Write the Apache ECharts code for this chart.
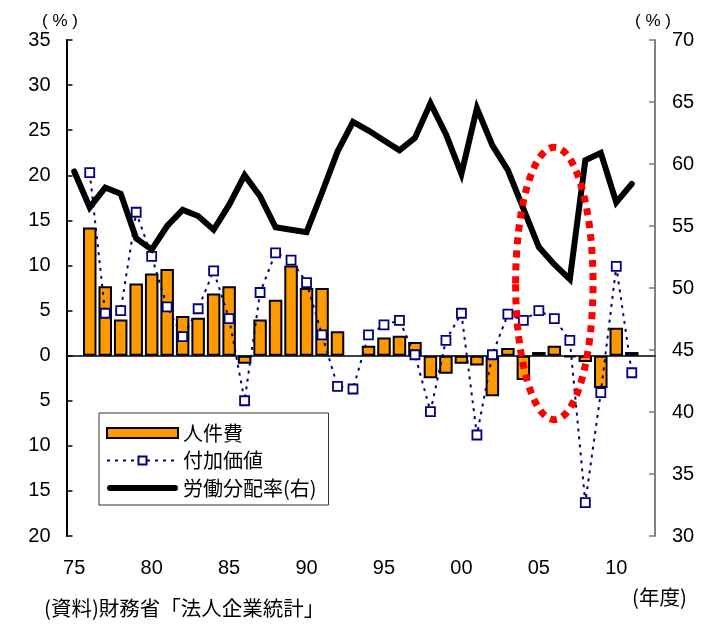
<!DOCTYPE html>
<html>
<head>
<meta charset="utf-8">
<script src="https://cdn.jsdelivr.net/npm/echarts@6/dist/echarts.min.js"></script>
<style>
  html, body { margin: 0; padding: 0; background: #fff; }
  #chart { width: 709px; height: 624px; }
</style>
</head>
<body>
<div id="chart"></div>
<script>
// Fiscal years 1975-2012 (two-digit labels)
const years = ['75','76','77','78','79','80','81','82','83','84',
               '85','86','87','88','89','90','91','92','93','94',
               '95','96','97','98','99','00','01','02','03','04',
               '05','06','07','08','09','10','11','12'];

// 人件費 (year-on-year %, left axis)
const labourCost = [null, 14.2, 7.7, 4.0, 8.0, 9.1, 9.6, 4.4, 4.2, 6.9,
                    7.7, -0.9, 4.0, 6.2, 10.0, 7.5, 7.5, 2.7, null, 1.1,
                    2.0, 2.2, 1.5, -2.5, -2.0, -0.9, -1.1, -4.5, 0.85, -2.7,
                    0.4, 1.1, -0.2, -0.7, -3.6, 3.1, 0.4, null];

// 付加価値 (year-on-year %, left axis)
const valueAdded = [null, 20.3, 4.7, 5.0, 15.9, 11.0, 5.4, 2.1, 5.2, 9.4,
                    4.1, -5.0, 7.0, 11.4, 10.6, 8.1, 2.3, -3.4, -3.7, 2.3,
                    3.4, 3.9, 0.1, -6.2, 1.7, 4.7, -8.8, 0.1, 4.6, 3.9,
                    5.0, 4.1, 1.7, -16.3, -4.1, 9.9, -1.9, null];

// 労働分配率 (%, right axis)
const labourShare = [59.4, 56.5, 58.1, 57.6, 54.0, 53.1, 55.0, 56.3, 55.8, 54.7,
                     56.7, 59.1, 57.4, 54.9, 54.7, 54.5, 57.7, 61.0, 63.4, 62.7,
                     61.9, 61.1, 62.1, 64.9, 62.4, 59.2, 64.5, 61.5, 59.5, 56.4,
                     53.3, 51.9, 50.7, 60.3, 60.9, 56.9, 58.4, null];

// Highlighted period (ellipse in data units: centre year/value, half-width in years, half-height in %)
const highlight = { year: '06', value: 8, halfYears: 2.5, halfValue: 15.1 };

const numFont = 'Liberation Sans, Arial, sans-serif';
const jpFont = 'Noto Sans CJK JP, sans-serif';

// Legend glyph for the thick share line: a 71x6 capsule
const capsuleIcon = 'path://M3,0 L68,0 A3,3 0 0 1 68,6 L3,6 A3,3 0 0 1 3,0 Z';

const chart = echarts.init(document.getElementById('chart'));

chart.setOption({
  animation: false,
  backgroundColor: '#fff',
  grid: { left: 66.5, right: 54, top: 40, bottom: 88, containLabel: false },
  legend: {
    orient: 'vertical',
    left: 99,
    top: 413,
    padding: [10, 12, 7, 7],
    itemGap: 7.5,
    itemWidth: 71,
    itemHeight: 10,
    backgroundColor: '#fff',
    borderColor: '#333',
    borderWidth: 1,
    textStyle: { fontFamily: jpFont, fontSize: 20, color: '#000', lineHeight: 20 },
    data: [
      { name: '人件費', icon: 'rect' },
      { name: '付加価値' },
      { name: '労働分配率(右)', icon: capsuleIcon }
    ]
  },
  xAxis: {
    type: 'category',
    data: years,
    boundaryGap: true,
    axisLine: { lineStyle: { color: '#404040', width: 2 } },
    axisTick: { inside: true, length: 7, interval: 4, lineStyle: { color: '#404040', width: 1.5 } },
    axisLabel: { interval: 4, color: '#000', fontFamily: numFont, fontSize: 20, margin: 22 },
    splitLine: { show: false }
  },
  yAxis: [
    {
      type: 'value',
      min: -20, max: 35, interval: 5,
      axisLine: { show: true, lineStyle: { color: '#000', width: 2 } },
      axisTick: { show: true, inside: true, length: 6, lineStyle: { color: '#000', width: 1.5 } },
      axisLabel: { color: '#000', fontFamily: numFont, fontSize: 20, margin: 16,
                   formatter: v => String(Math.abs(v)) },
      splitLine: { show: false }
    },
    {
      type: 'value',
      min: 30, max: 70, interval: 5,
      position: 'right',
      axisLine: { show: true, lineStyle: { color: '#808080', width: 2 } },
      axisTick: { show: true, inside: true, length: 6, lineStyle: { color: '#808080', width: 1.5 } },
      axisLabel: { color: '#000', fontFamily: numFont, fontSize: 20, margin: 17 },
      splitLine: { show: false }
    }
  ],
  series: [
    {
      name: '人件費',
      type: 'bar',
      yAxisIndex: 0,
      data: labourCost,
      barWidth: 13.5,
      itemStyle: { color: '#FF9900', borderColor: '#000', borderWidth: 2 },
      z: 2
    },
    {
      name: '付加価値',
      type: 'line',
      yAxisIndex: 0,
      data: valueAdded,
      symbol: 'rect',
      symbolSize: 9,
      showAllSymbol: true,
      lineStyle: { color: '#000080', width: 2, type: [3, 5] },
      itemStyle: { color: '#fff', borderColor: '#000080', borderWidth: 1.8 },
      z: 3
    },
    {
      name: '労働分配率(右)',
      type: 'line',
      yAxisIndex: 1,
      data: labourShare,
      symbol: 'none',
      lineStyle: { color: '#000', width: 6, cap: 'round', join: 'miter' },
      itemStyle: { color: '#000' },
      z: 4
    }
  ]
});

// Place the dotted ellipse and the captions once the scales exist
const centrePx = chart.convertToPixel({ xAxisIndex: 0, yAxisIndex: 0 }, [highlight.year, highlight.value]);
const bandPx = chart.convertToPixel({ xAxisIndex: 0 }, '11') - chart.convertToPixel({ xAxisIndex: 0 }, '10');
const topPx = chart.convertToPixel({ yAxisIndex: 0 }, highlight.value + highlight.halfValue);

chart.setOption({
  graphic: [
    {
      type: 'ellipse',
      z: 100,
      shape: { cx: centrePx[0], cy: centrePx[1], rx: bandPx * highlight.halfYears, ry: centrePx[1] - topPx },
      style: { fill: 'none', stroke: '#FF0000', lineWidth: 7, lineDash: [7, 6] }
    },
    {
      type: 'text', z: 100, left: 42, top: 13,
      style: { text: '( % )', font: '17px ' + numFont, fill: '#000' }
    },
    {
      type: 'text', z: 100, left: 635, top: 13,
      style: { text: '( % )', font: '17px ' + numFont, fill: '#000' }
    },
    {
      type: 'text', z: 100, left: 632, top: 587,
      style: { text: '(年度)', font: '20.5px ' + jpFont, fill: '#000' }
    },
    {
      type: 'text', z: 100, left: 44, top: 598,
      style: { text: '(資料)財務省「法人企業統計」', font: '20.5px ' + jpFont, fill: '#000' }
    }
  ]
});
</script>
</body>
</html>
